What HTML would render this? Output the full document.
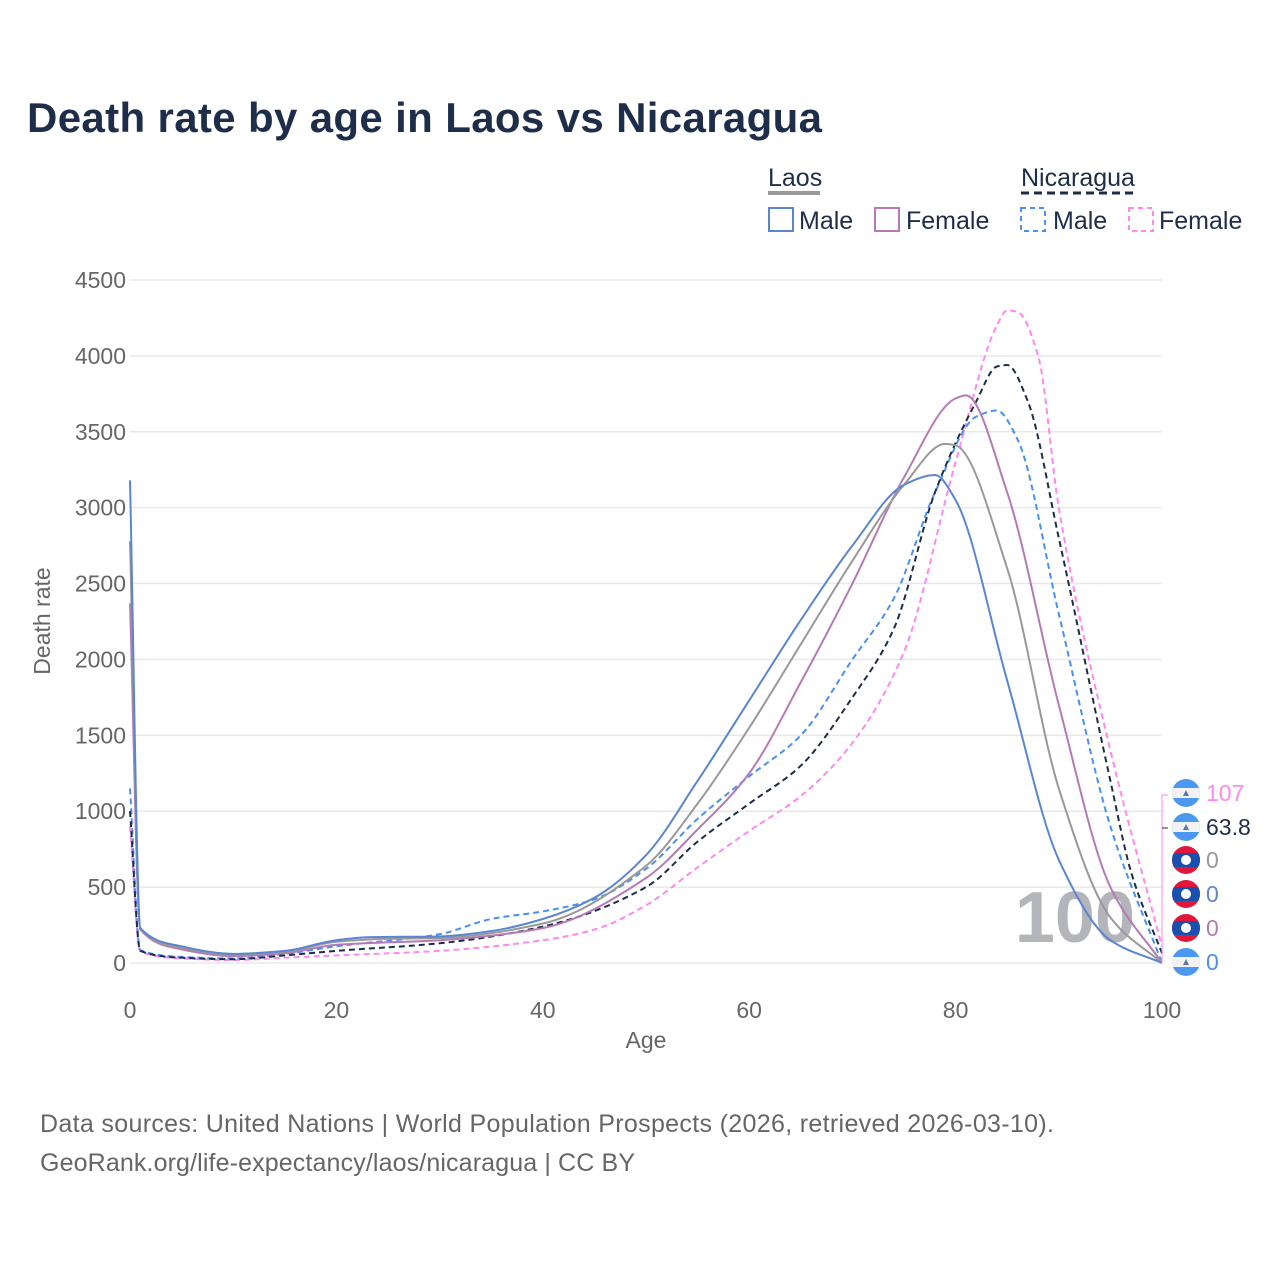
<!DOCTYPE html>
<html><head><meta charset="utf-8">
<style>
body{margin:0;background:#fff;font-family:"Liberation Sans",sans-serif;}
#wrap{position:relative;width:1280px;height:1280px;}
</style></head>
<body>
<div id="wrap">
<svg id="chart" width="1280" height="1280" xmlns="http://www.w3.org/2000/svg">
<defs><clipPath id="flagclip"><circle cx="0" cy="0" r="14"/></clipPath></defs>
<text x="27" y="132" font-size="42" font-weight="bold" fill="#1e2d4a" textLength="795">Death rate by age in Laos vs Nicaragua</text>
<g font-size="25" fill="#1e2d4a">
<text x="768" y="186">Laos</text>
<line x1="768" y1="193" x2="820" y2="193" stroke="#999" stroke-width="4"/>
<text x="1021" y="186">Nicaragua</text>
<line x1="1021" y1="193" x2="1137" y2="193" stroke="#1e2d4a" stroke-width="3" stroke-dasharray="8,5"/>
<g><rect x="769" y="208" width="24" height="23" fill="none" stroke="#5b86cf" stroke-width="2"/><text x="799" y="229">Male</text></g>
<g><rect x="875" y="208" width="24" height="23" fill="none" stroke="#b57ab5" stroke-width="2"/><text x="906" y="229">Female</text></g>
<g><rect x="1021" y="208" width="24" height="23" fill="none" stroke="#4a90f0" stroke-width="2" stroke-dasharray="5,4"/><text x="1053" y="229">Male</text></g>
<g><rect x="1129" y="208" width="24" height="23" fill="none" stroke="#ff88ee" stroke-width="2" stroke-dasharray="5,4"/><text x="1159" y="229">Female</text></g>
</g>
<g id="grid"></g>
<text x="1135" y="942" font-size="72" font-weight="bold" fill="#b4b4bb" text-anchor="end">100</text>
<g id="series"></g>
<g id="labels"></g>
<text x="50" y="621" font-size="23" fill="#666" transform="rotate(-90 50 621)" text-anchor="middle">Death rate</text>
<text x="646" y="1048" font-size="23" fill="#666" text-anchor="middle">Age</text>
<text x="40" y="1132" font-size="25" fill="#666" textLength="1014">Data sources: United Nations | World Population Prospects (2026, retrieved 2026-03-10).</text>
<text x="40" y="1171" font-size="25" fill="#666" textLength="595">GeoRank.org/life-expectancy/laos/nicaragua | CC BY</text>
</svg>
</div>
<script>
const yTicks=[0,500,1000,1500,2000,2500,3000,3500,4000,4500];
const xTicks=[0,20,40,60,80,100];
const laosMaleAges=[0,1,5,10,15,20,23,30,35,40,45,50,55,60,65,70,75,78,80,85,90,95,100];
const laosMaleVals=[3180,230,110,60,80,150,170,175,210,290,430,710,1200,1730,2260,2750,3150,3215,3050,1860,680,150,0];
const laosTotalAges=[0,1,5,10,15,20,25,30,40,50,55,60,65,70,75,79,80,85,90,95,100];
const laosTotalVals=[2780,225,100,55,75,140,160,165,260,640,1050,1550,2100,2650,3150,3420,3410,2600,1150,300,0];
const laosFemaleAges=[0,1,5,10,15,20,30,40,50,55,60,65,70,75,80,81,85,90,95,100];
const laosFemaleVals=[2370,220,90,45,65,120,150,230,560,880,1250,1850,2500,3200,3720,3740,3100,1700,500,0];
const nicMaleAges=[0,1,5,10,15,20,30,35,40,45,50,55,60,65,70,74,78,82,84,86,90,95,100];
const nicMaleVals=[1150,85,40,30,60,110,190,290,340,420,620,950,1230,1500,2000,2400,3100,3600,3640,3450,2300,900,0];
const nicTotalAges=[0,1,5,10,15,20,30,40,50,55,60,65,70,74,78,82,84,85,87,90,95,97,100];
const nicTotalVals=[1000,80,35,25,50,80,130,240,500,800,1050,1300,1750,2200,3100,3700,3930,3940,3700,2800,1200,600,64];
const nicFemaleAges=[0,1,5,10,15,20,30,40,45,50,55,60,65,70,75,80,84,85,86,88,90,95,100];
const nicFemaleVals=[900,75,30,20,35,50,80,150,220,380,630,870,1100,1450,2050,3300,4200,4300,4290,4000,3000,1400,107];

const X=a=>130+a*10.32, Y=v=>963-v*683/4500;
const NS="http://www.w3.org/2000/svg";
function mk(tag,attrs,parent){const e=document.createElementNS(NS,tag);for(const k in attrs)e.setAttribute(k,attrs[k]);parent.appendChild(e);return e;}
const grid=document.getElementById('grid');
yTicks.forEach(t=>{
  const l=mk('line',{x1:130,x2:1162,y1:Y(t),y2:Y(t),stroke:'#e8e8e8','stroke-width':1.5},grid);
  
  
  const tx=mk('text',{x:126,y:Y(t)+8,'font-size':23,fill:'#666','text-anchor':'end'},grid);
  tx.textContent=t;
  
  
});
xTicks.forEach(t=>{
  const tx=mk('text',{x:X(t),y:1018,'font-size':23,fill:'#666','text-anchor':'middle'},grid);
  tx.textContent=t;
  
  
});
// monotone cubic (Fritsch-Carlson)
function path(ages,vals){
  const xs=ages.map(X), ys=vals.map(Y), n=xs.length;
  const d=[],m=new Array(n);
  for(let i=0;i<n-1;i++)d.push((ys[i+1]-ys[i])/(xs[i+1]-xs[i]));
  m[0]=d[0];m[n-1]=d[n-2];
  for(let i=1;i<n-1;i++){
    if(d[i-1]*d[i]<=0)m[i]=0;
    else{const w1=2*(xs[i+1]-xs[i])+(xs[i]-xs[i-1]),w2=(xs[i+1]-xs[i])+2*(xs[i]-xs[i-1]);m[i]=(w1+w2)/(w1/d[i-1]+w2/d[i]);}
  }
  let s='M'+xs[0]+','+ys[0];
  for(let i=0;i<n-1;i++){
    const h=(xs[i+1]-xs[i])/3;
    s+=`C${xs[i]+h},${ys[i]+m[i]*h} ${xs[i+1]-h},${ys[i+1]-m[i+1]*h} ${xs[i+1]},${ys[i+1]}`;
  }
  return s;
}
const sg=document.getElementById('series');
const series=[
 ['line-nicaragua-female',nicFemaleAges,nicFemaleVals,'#ff88ee','6,4'],
 ['line-nicaragua-male',nicMaleAges,nicMaleVals,'#4a90f0','6,4'],
 ['line-nicaragua-total',nicTotalAges,nicTotalVals,'#1e2d4a','6,4'],
 ['line-laos-female',laosFemaleAges,laosFemaleVals,'#b57ab5',''],
 ['line-laos-total',laosTotalAges,laosTotalVals,'#999999',''],
 ['line-laos-male',laosMaleAges,laosMaleVals,'#5b86cf','']
];
series.forEach(s=>{
  const e=mk('path',{d:path(s[1],s[2]),fill:'none',stroke:s[3],'stroke-width':2,'stroke-dasharray':s[4]||'none'},sg);
  
  
});
const lg=document.getElementById('labels');
const labelVals=['107','63.8','0','0','0','0'];
const labelColors=['#ff88ee','#1e2d4a','#999','#5b86cf','#b57ab5','#4a90f0'];
const labelFlags=['nic','nic','laos','laos','laos','nic'];
const labelNames=['label-nicaragua-female','label-nicaragua-total','label-laos-total','label-laos-male','label-laos-female','label-nicaragua-male'];
const labelY=[793,827,860,894,928,962];
mk('path',{d:'M1162,963 L1162,795 L1168,795',fill:'none',stroke:'#ff88ee','stroke-width':1},lg);
mk('path',{d:'M1162,828 L1168,828',fill:'none',stroke:'#1e2d4a','stroke-width':1},lg);
labelVals.forEach((v,i)=>{
  const cy=labelY[i];
  const g=mk('g',{transform:`translate(1186,${cy})`},lg);
  
  
  const f=mk('g',{'clip-path':'url(#flagclip)'},g);
  if(labelFlags[i]==='nic'){
    mk('rect',{x:-14,y:-14,width:28,height:28,fill:'#4a98f0'},f);
    mk('rect',{x:-14,y:-5,width:28,height:10,fill:'#f2f2f2'},f);
    mk('polygon',{points:'-3,3 3,3 0,-3',fill:'#5a7aa0'},f);
  } else {
    mk('rect',{x:-14,y:-14,width:28,height:28,fill:'#e0173a'},f);
    mk('rect',{x:-14,y:-7,width:28,height:14,fill:'#1a4fb0'},f);
    mk('circle',{cx:0,cy:0,r:5,fill:'#fff'},f);
  }
  const t=mk('text',{x:20,y:8,'font-size':23,fill:labelColors[i]},g);
  t.textContent=v;
});
</script>
</body></html>
